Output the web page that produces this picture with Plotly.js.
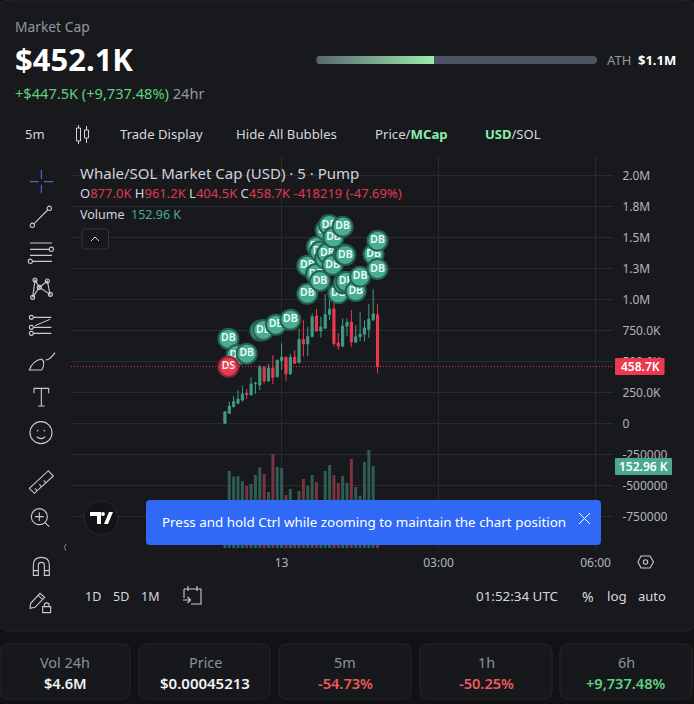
<!DOCTYPE html>
<html><head><meta charset="utf-8">
<script src="https://cdn.plot.ly/plotly-3.0.1.min.js"></script>
<style>html,body{margin:0;padding:0;background:#111214}#c{width:694px;height:704px}</style>
</head><body><div id="c"></div>
<script>
// ---- data (K USD, x = 5-minute candles from 00:00 on the 13th) ----
const candleIdx=[-13,-12,-11,-10,-9,-8,-7,-6,-5,-4,-3,-2,-1,0,1,2,3,4,5,6,7,8,9,10,11,12,13,14,15,16,17,18,19,20,21,22];
const opens =[2,82,136,162,189,243,230,321,310,453,343,448,377,507,534,400,534,490,678,641,700,867,746,769,879,926,650,624,785,817,655,699,720,760,837,877];
const closes=[95,141,176,197,238,235,318,325,453,343,445,372,510,534,400,534,486,678,641,700,861,746,778,879,922,645,624,785,817,659,699,720,771,841,884,458.7];
const highs =[101,176,221,269,305,278,372,337,472,464,480,552,515,646,539,560,592,767,833,780,888,923,862,1044,1023,985,727,847,847,915,792,901,833,963,1083,961.2];
const lows  =[0,77,130,157,176,199,230,238,269,323,337,317,372,432,342,392,480,490,541,541,700,740,694,763,834,623,594,613,705,618,650,661,661,689,825,404.5];
const volumes=[200,385,357,360,335,310,320,365,403,370,280,470,405,400,265,295,200,285,345,310,365,330,220,385,415,365,325,360,325,445,305,262,430,490,410,152.96];
const bubbleX=[-12.2,-10.3,-8,-4.9,-4.2,-1.3,2,5.9,5.9,7.9,8.8,8.1,8.8,10,10.5,11.7,14.2,14.6,13,14.2,14.8,17,18,10.1,10.9,11.9,14,21.1,22,22,-12.2];
const bubbleY=[684,552,563,749,754,797,837,1047,1273,1206,1149,1426,1386,1332,1372,1278,1362,1359,1050,1130,1144,1068,1184,1560,1600,1501,1587,1364,1474,1246,458];
const bubbleKind=["DB","DB","DB","DB","DB","DB","DB","DB","DB","DB","DB","DB","DB","DB","DB","DB","DB","DB","DB","DB","DB","DB","DB","DB","DB","DB","DB","DB","DB","DB","DS"];
const yTickVals=[-750,-500,-250,0,250,500,750,1000,1250,1500,1750,2000];
const yTickText=["-750000","-500000","-250000","0","250.0K","500.0K","750.0K","1.0M","1.3M","1.5M","1.8M","2.0M"];
const xTickVals=[0,36,72];
const xTickText=["13","03:00","06:00"];
const lastClose=458.7;

const W=694,H=704,FONT='"Noto Sans",sans-serif';
const fx=x=>x/W, fy=y=>1-y/H;
const UP='#3f9c86',DN='#ea3a50',UPV='#2f5c53',DNV='#7a3441';
const shapes=[],ann=[];
function pathOf(d){return d.replace(/([MLQC])([^MLQCZ]*)/g,(m,c,a)=>{const n=a.trim().split(/[\s,]+/).map(Number);let o=[];for(let i=0;i<n.length;i+=2)o.push(fx(n[i]).toFixed(5)+','+fy(n[i+1]).toFixed(5));return c+o.join(' ');});}
function P(d,col,w,fill,layer){shapes.push({type:'path',xref:'paper',yref:'paper',path:pathOf(d),line:{color:col||'rgba(0,0,0,0)',width:w==null?1.1:w},fillcolor:fill||'rgba(0,0,0,0)',layer:layer||'above'});}
function C(cx,cy,r,col,w,fill,layer){shapes.push({type:'circle',xref:'paper',yref:'paper',x0:fx(cx-r),x1:fx(cx+r),y0:fy(cy+r),y1:fy(cy-r),line:{color:col||'rgba(0,0,0,0)',width:w==null?1.1:w},fillcolor:fill||'rgba(0,0,0,0)',layer:layer||'above'});}
function RR(x0,y0,x1,y1,r,fill,col,layer,w){P(`M${x0+r} ${y0}L${x1-r} ${y0}Q${x1} ${y0} ${x1} ${y0+r}L${x1} ${y1-r}Q${x1} ${y1} ${x1-r} ${y1}L${x0+r} ${y1}Q${x0} ${y1} ${x0} ${y1-r}L${x0} ${y0+r}Q${x0} ${y0} ${x0+r} ${y0}Z`,col,w==null?1:w,fill,layer);}
function T(x,y,text,size,color,anchor,weight,bg){ann.push({xref:'paper',yref:'paper',x:fx(x),y:fy(y),text:text,showarrow:false,xanchor:anchor||'left',yanchor:'middle',font:{family:FONT,size:size,color:color,weight:weight||400},borderpad:0,borderwidth:0,bgcolor:bg||'rgba(0,0,0,0)'});}

// panels
RR(-2,0,696,631,12,'#18191c','#25262a','below');
[[0,130],[139,270],[279,411],[420,552],[560,692]].forEach(a=>RR(a[0],644,a[1],699,8,'#17181b','#25262a','below'));

// header
T(15,27,'Market Cap',13.8,'#8f98a3');
T(15,59,'$452.1K',31,'#ffffff','left',700);
T(15,93,'<span style="color:#5fd17f">+$447.5K (+9,737.48%)</span> <span style="color:#8f98a3">24hr</span>',14.6,'#5fd17f');
RR(316,56,597,64,4,'#4b5563',null,'below',0);
for(let i=0;i<58;i++){const t=i/57,x=318+i*2;const c=[90+t*(155-90),105+t*(235-105),112+t*(170-112)].map(Math.round);
  shapes.push({type:'rect',xref:'paper',yref:'paper',x0:fx(x),x1:fx(x+2),y0:fy(64),y1:fy(56),line:{width:0},fillcolor:`rgb(${c})`,layer:'below'});}
T(607,60,'ATH',13,'#8f98a3');
T(638,60,'$1.1M',13,'#ffffff','left',700);

// top toolbar
const BAR='#d5d7dc';
T(25,134,'5m',13,BAR);
T(120,134,'Trade Display',13.1,BAR);
T(236,134,'Hide All Bubbles',13.2,BAR);
T(375,134,'Price/<b style="color:#86efac">MCap</b>',13.2,BAR);
T(485,134,'<b style="color:#86efac">USD</b>/SOL',13,BAR);
P('M76.5 128L80.5 128L80.5 141L76.5 141ZM78.5 125L78.5 128M78.5 141L78.5 144M84.5 130L88.5 130L88.5 138L84.5 138ZM86.5 126L86.5 130M86.5 138L86.5 143','#d5d7dc',1);

// chart legend
T(80,173,'Whale/SOL Market Cap (USD) · 5 · Pump',15,'#d1d4dc');
const R='#e0394f';
T(80,193,`O<span style="color:${R}">877.0K</span> H<span style="color:${R}">961.2K</span> L<span style="color:${R}">404.5K</span> C<span style="color:${R}">458.7K</span> <span style="color:${R}">-418219 (-47.69%)</span>`,13,'#d1d4dc');
T(80,214,`Volume  <span style="color:#4aa98f">152.96 K</span>`,12.5,'#d1d4dc');
RR(82,229,108.5,249,3,'#17181b','#33353a');
P('M91 241L95 237L99 241','#d1d4dc',1);

const ix=x=>x/3, iy=y=>160+y/3;
function Z(d,col,w,fill){P(d.replace(/(-?[\d.]+) (-?[\d.]+)/g,(m,a,b)=>ix(+a)+' '+iy(+b)),col,w,fill);}
function ZC(x,y,r,col,w,fill){C(ix(x),iy(y),r/3,col,w,fill);}
const IC='#c9cbd0';
Z('M124 30L124 56M124 74L124 100M90 65L116 65M132 65L160 65','#4a6bd0',1.2);
Z('M103 190L143 150',IC);ZC(97,196,6.5,IC);ZC(148,145,6.5,IC);
Z('M90 249L156 249M90 268L148 268M90 286L156 286M98 304L156 304',IC);ZC(154,268,6.5,IC);ZC(91,304,6.5,IC);
Z('M98 412L105 360L118 382L142 363L150 403L118 382L98 412',IC);[[105,360],[142,363],[118,382],[98,412],[151,403]].forEach(p=>ZC(p[0],p[1],6,IC));
Z('M100 472L154 472M100 502L154 502M100 520L154 520',IC);Z('M105 497L150 478',IC,1);[[94,472],[94,502],[94,520]].forEach(p=>ZC(p[0],p[1],6,IC));
Z('M88 630Q98 602 125 597Q138 608 125 630ZM137 600Q150 600 165 578',IC);
Z('M102 700L102 685L146 685L146 700M124 685L124 738M114 738L134 738',IC);
ZC(123,818,33,IC);ZC(113,812,1.5,IC,1);ZC(133,812,1.5,IC,1);Z('M110 830Q123 842 136 830',IC);
Z('M88 985L145 932L160 948L103 1000ZM105 985L112 993M118 973L125 981M131 961L138 969',IC);
ZC(118,1070,24,IC);Z('M105 1070L131 1070M118 1057L118 1083M135 1088L148 1100',IC);
Z('M100 1246L100 1215Q100 1192 124 1192Q148 1192 148 1215L148 1246L133 1246L133 1215Q133 1207 124 1207Q115 1207 115 1215L115 1246ZM100 1232L115 1232M133 1232L148 1232',IC);
Z('M90 1345L92 1330L120 1300L134 1312L105 1342ZM114 1306L128 1318',IC);Z('M128 1340L152 1340L152 1358L128 1358ZM133 1340L133 1332Q140 1325 147 1332L147 1340',IC);
Z('M198 1152L193 1162L198 1172','#888b90',1);

// bottom chart bar
T(85,596,'1D',12.5,BAR);T(113,596,'5D',12.5,BAR);T(141,596,'1M',12.5,BAR);
P('M184 589L201 589L201 604L191 604M184 589L184 598M188 586L188 591M197 586L197 591M183 600L190 600M187.5 597L190.5 600L187.5 603',IC);
T(476,596,'01:52:34 UTC',13.4,BAR);T(582,596,'%',14,BAR);T(607,596,'log',13.4,BAR);T(638,596,'auto',13,BAR);
P('M641 556L650 556L653.5 562L650 568L641 568L638 562Z',IC);C(645.5,562,2.2,IC);

// stats
const LAB='#8792a0',WH='#f2f3f5',GR='#5fd17f',RD='#ef5a5a';
[[65,'Vol 24h','$4.6M',WH,14.6],[205,'Price','$0.00045213',WH,15],[345,'5m','-54.73%',RD,14.6],[486,'1h','-50.25%',RD,14.6],[626,'6h','+9,737.48%',GR,14.6]].forEach(s=>{
  T(s[0],662,s[1],14.4,LAB,'center');T(s[0],683,s[2],s[4],s[3],'center',600);
});

// axis tags
RR(615,358,664.5,375,1,DN,null,'above',0);
T(640,366.5,'458.7K',12,'#ffffff','center',600);
RR(615,458,672,475,1,'#4aa98f',null,'above',0);
T(643.5,466.5,'152.96 K',12,'#ffffff','center',600);

// TV logo
C(101,518,17,'#2a2b30',1,'#131418');
P('M90 512L101 512L101 524L97 524L97 516L90 516ZM109 512L113 512L108 524L104 524Z','#ffffff',0,'#ffffff');C(103,514,1.9,'#ffffff',0,'#ffffff');

// toast
RR(146,500,601,545,4,'#3069f5',null,'above',0);
T(162,522,'Press and hold Ctrl while zooming to maintain the chart position',13.4,'#ffffff');
P('M579 513L590 524M590 513L579 524','#ffffff',1);

// price line
shapes.push({type:'line',xref:'paper',yref:'y',x0:fx(71),x1:fx(613),y0:lastClose,y1:lastClose,line:{color:DN,width:1,dash:'1px,2px'},layer:'above'});

const traces=[
 {type:'bar',x:candleIdx,y:volumes,yaxis:'y2',marker:{color:opens.map((o,i)=>closes[i]>=o?UPV:DNV),line:{width:0}},width:0.68,hoverinfo:'skip'},
 {type:'candlestick',x:candleIdx,open:opens,high:highs,low:lows,close:closes,whiskerwidth:0,
  increasing:{line:{color:UP,width:1},fillcolor:UP},decreasing:{line:{color:DN,width:1},fillcolor:DN},hoverinfo:'skip'}
];
bubbleX.forEach((x,i)=>{const s=bubbleKind[i]==='DS';
 traces.push({type:'scatter',mode:'markers+text',x:[x],y:[bubbleY[i]],text:[bubbleKind[i]],textposition:'middle center',cliponaxis:false,
  textfont:{family:FONT,size:10.5,color:'#eafff8',weight:600},
  marker:{size:20,color:s?'#ea3a50':'#4aac94',line:{color:s?'#8a2835':'#26604f',width:2}},hoverinfo:'skip'});});

Plotly.newPlot('c',traces,{
 width:W,height:H,showlegend:false,dragmode:false,
 margin:{l:0,r:0,t:0,b:0,pad:0},paper_bgcolor:'#111214',plot_bgcolor:'rgba(0,0,0,0)',
 font:{family:FONT,size:12,color:'#b2b5be'},
 xaxis:{domain:[fx(71),fx(613)],range:[-48.3,76],tickmode:'array',tickvals:xTickVals,ticktext:xTickText,showgrid:true,gridcolor:'#2a2b2f',gridwidth:1,zeroline:false,showline:false,ticks:'outside',ticklen:4,tickcolor:'rgba(0,0,0,0)',tickfont:{family:FONT,size:12,color:'#b2b5be'},rangeslider:{visible:false},fixedrange:true},
 yaxis:{domain:[fy(548),fy(157)],range:[-1004,2149],side:'right',tickmode:'array',tickvals:yTickVals,ticktext:yTickText,showgrid:true,gridcolor:'#2a2b2f',gridwidth:1,zeroline:false,showline:false,ticks:'outside',ticklen:6,tickcolor:'rgba(0,0,0,0)',tickfont:{family:FONT,size:12,color:'#b2b5be'},fixedrange:true},
 yaxis2:{overlaying:'y',domain:[fy(548),fy(157)],range:[0,1955],side:'right',showgrid:false,zeroline:false,showticklabels:false,ticks:'',fixedrange:true},
 shapes:shapes,annotations:ann
},{displayModeBar:false,staticPlot:true});
</script></body></html>
